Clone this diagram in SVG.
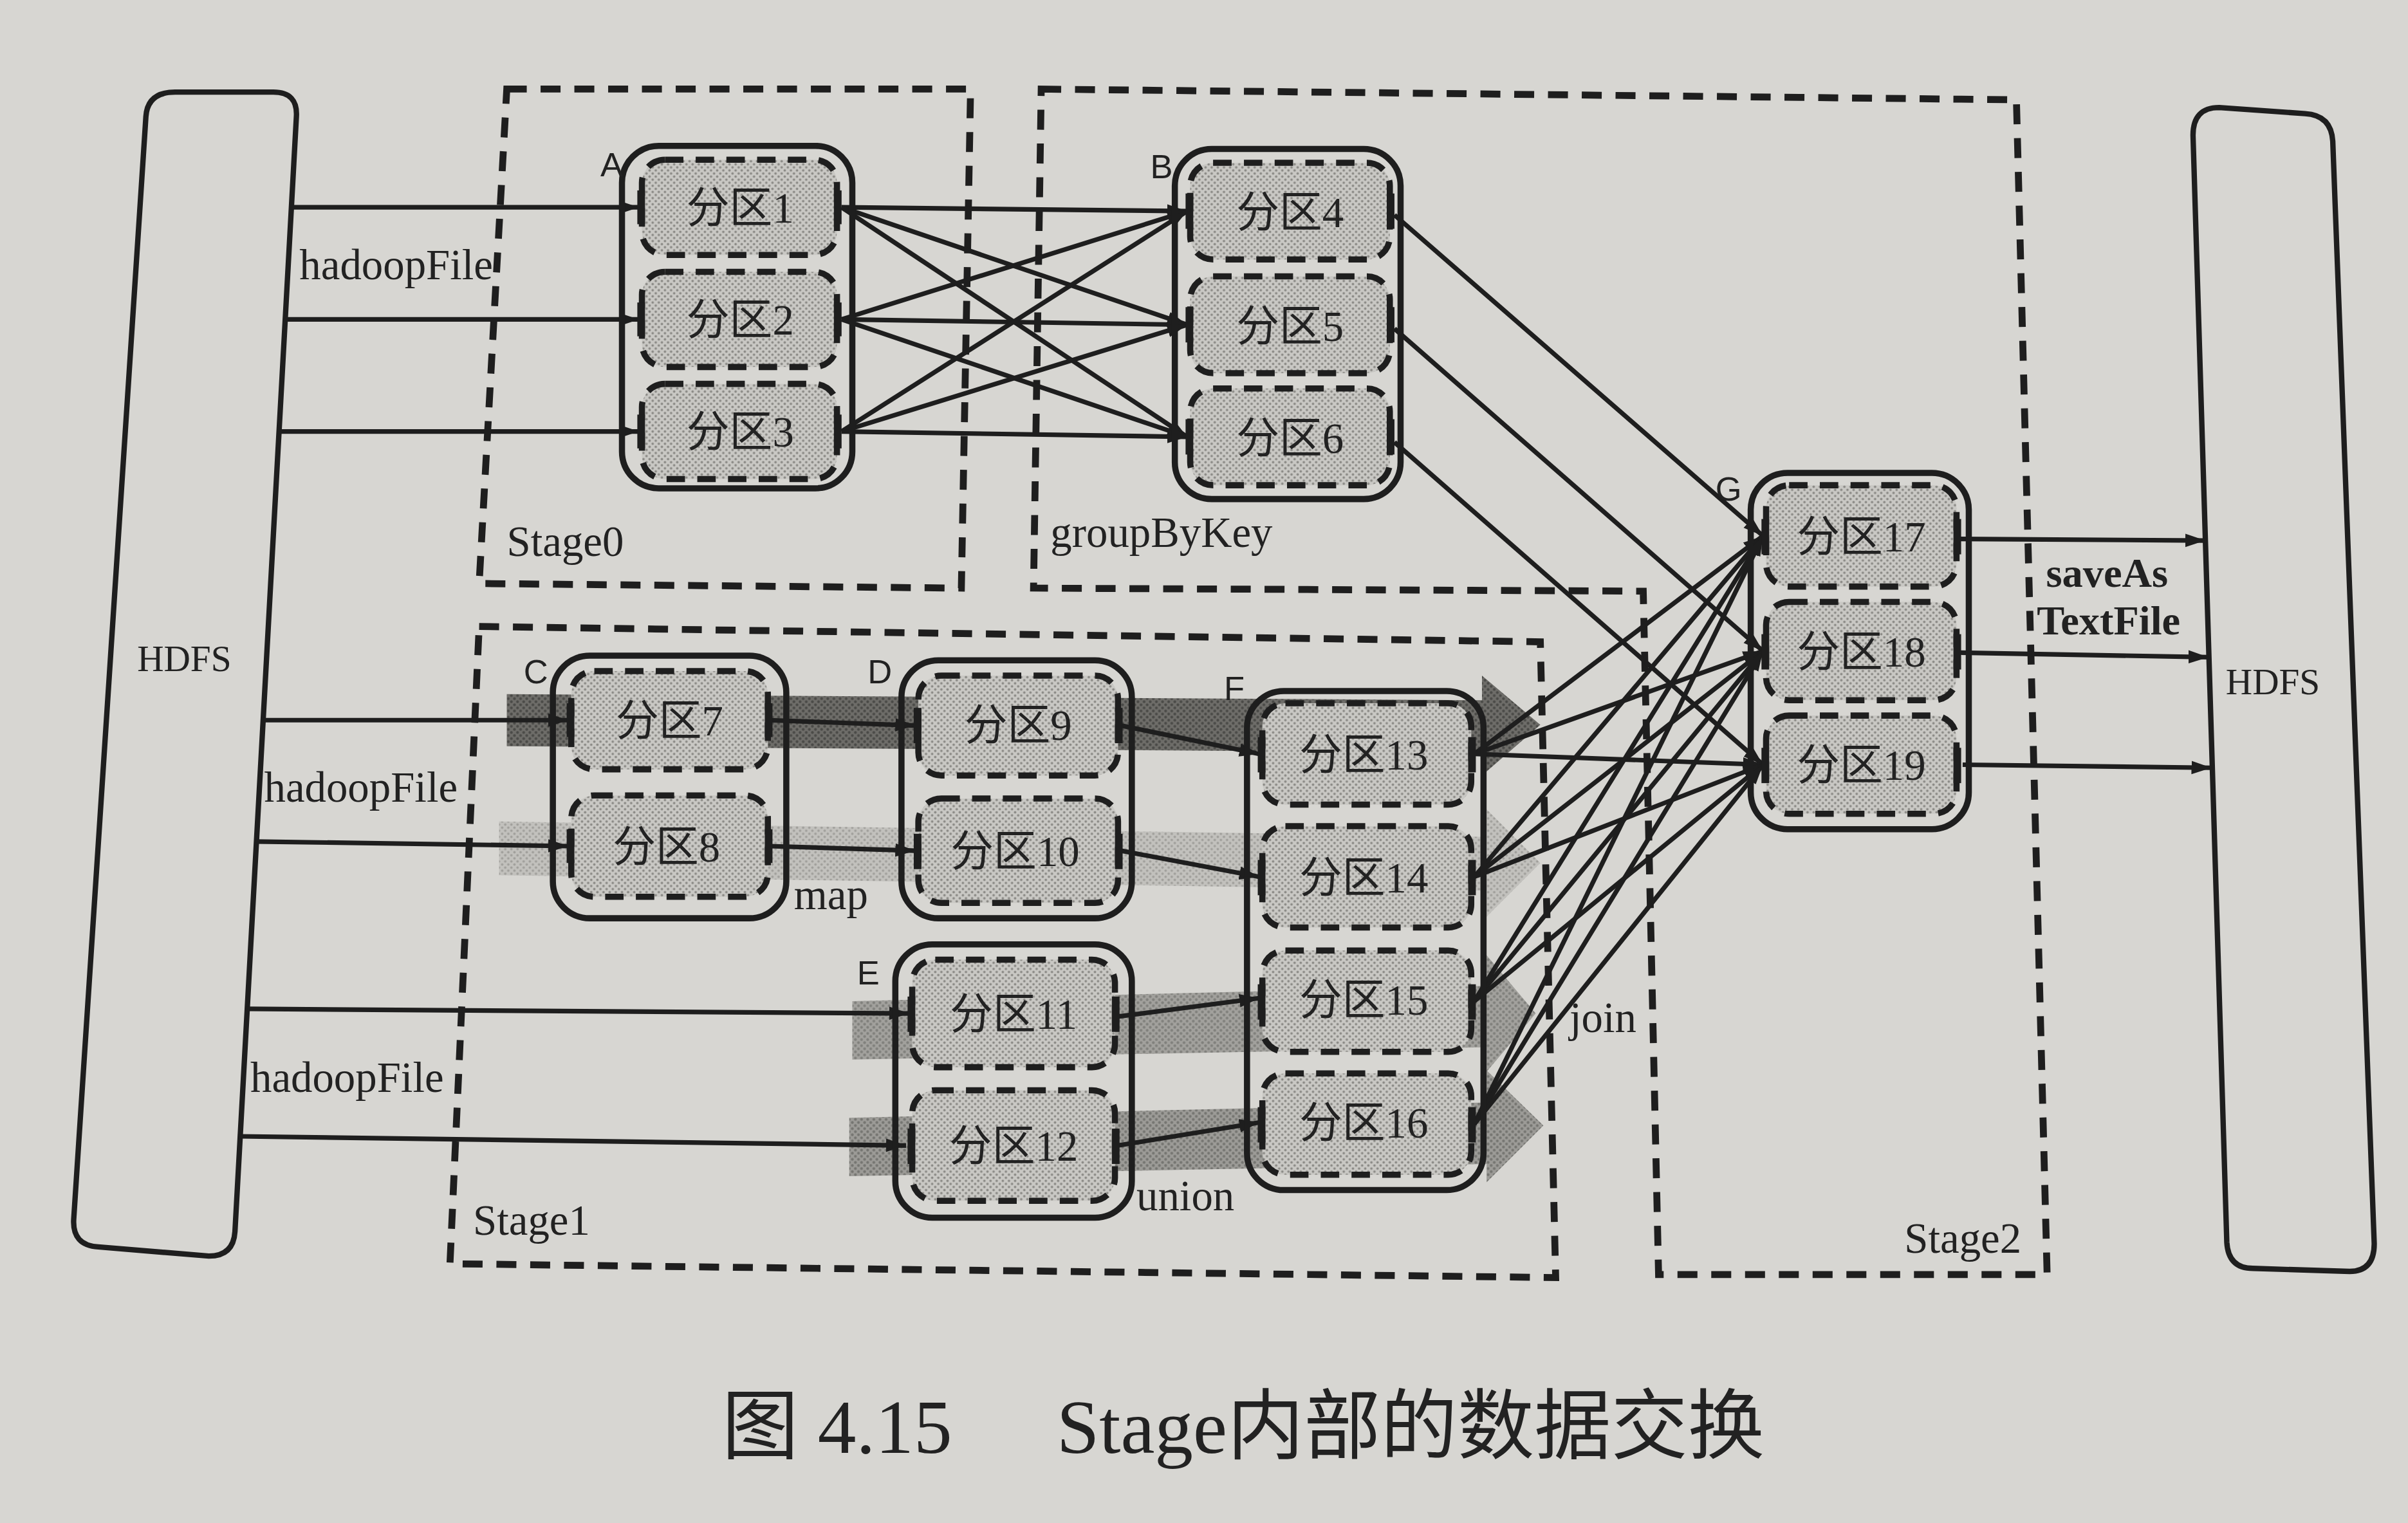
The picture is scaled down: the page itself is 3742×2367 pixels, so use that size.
<svg xmlns="http://www.w3.org/2000/svg" width="3742" height="2367" viewBox="0 0 3742 2367">
<defs>
<pattern id="pPart" width="4" height="4" patternUnits="userSpaceOnUse"><rect width="4" height="4" fill="#c9c8c4"/><circle cx="1" cy="1" r="0.8" fill="#8c8b87"/><circle cx="3" cy="3" r="0.8" fill="#8c8b87"/></pattern>
<pattern id="pDark" width="4" height="4" patternUnits="userSpaceOnUse"><rect width="4" height="4" fill="#62615d"/><circle cx="1" cy="1" r="0.9" fill="#3a3a37"/><circle cx="3" cy="3" r="0.9" fill="#3a3a37"/></pattern>
<pattern id="pMid" width="4" height="4" patternUnits="userSpaceOnUse"><rect width="4" height="4" fill="#959490"/><circle cx="1" cy="1" r="0.9" fill="#6a6a66"/><circle cx="3" cy="3" r="0.9" fill="#6a6a66"/></pattern>
<pattern id="pLight" width="4" height="4" patternUnits="userSpaceOnUse"><rect width="4" height="4" fill="#bebdb9"/><circle cx="1" cy="1" r="0.8" fill="#979692"/><circle cx="3" cy="3" r="0.8" fill="#979692"/></pattern>
<marker id="arr" viewBox="0 0 12 8" refX="12" refY="4" markerWidth="13" markerHeight="9" markerUnits="userSpaceOnUse" orient="auto"><path d="M0,0 L12,4 L0,8 Z" fill="#1e1e1e"/></marker>
</defs>
<style>
.stage{fill:none;stroke:#1e1e1e;stroke-width:4.5;stroke-dasharray:13 9}
.outer{fill:none;stroke:#1e1e1e;stroke-width:4}
.part{fill:url(#pPart);stroke:#1e1e1e;stroke-width:4;stroke-dasharray:12 8}
.tick{fill:#1e1e1e}
.plab{font-family:"Liberation Serif","Noto Sans CJK SC",serif;font-size:28px;fill:#222;text-anchor:middle}
.let{font-family:"Liberation Sans",sans-serif;font-size:22px;fill:#222}
.lab{font-family:"Liberation Serif",serif;font-size:28px;fill:#222}
.bold{font-family:"Liberation Serif",serif;font-size:27px;font-weight:bold;fill:#222;text-anchor:middle}
.hd{font-family:"Liberation Serif",serif;font-size:24px;fill:#222;text-anchor:middle}
.lna{fill:none;stroke:#1e1e1e;stroke-width:3;marker-end:url(#arr)}
.cap{font-family:"Liberation Serif","Noto Sans CJK SC",serif;font-size:50px;fill:#222}
</style>
<rect width="3742" height="2367" fill="#d7d6d2"/>
<g transform="scale(2.3865)">
<g id="bands">
<path d="M330,452 L965,456 L965,440 L1003,472 L965,505 L965,490 L330,486 Z" fill="url(#pDark)" opacity="0.9"/>
<path d="M325,535 L968,545 L968,527 L1003,562 L968,597 L968,580 L325,570 Z" fill="url(#pLight)" opacity="0.85"/>
<path d="M555,652 L968,642 L968,622 L1000,660 L968,698 L968,682 L555,690 Z" fill="url(#pMid)" opacity="0.8"/>
<path d="M553,728 L968,718 L968,697 L1005,733 L968,770 L968,758 L553,766 Z" fill="url(#pMid)" opacity="0.9"/>
</g>
<g id="stages">
<polygon class="stage" points="330,58 632,58 626,383 312,380"/>
<polygon class="stage" points="678,58 1313,65 1333,830 1080,830 1070,385 673,383"/>
<polygon class="stage" points="312,408 1003,418 1013,832 293,823"/>
<text class="lab" x="330" y="362">Stage0</text>
<text class="lab" x="684" y="356">groupByKey</text>
<text class="lab" x="1240" y="816">Stage2</text>
<text class="lab" x="308" y="804">Stage1</text>
</g>
<g id="hdfs-left">
<path d="M114,60 L178,60 Q194,60 193,76 L153,802 Q152,818 136,818 L64,812 Q47,811 48,794 L95,76 Q96,60 114,60 Z" fill="none" stroke="#1e1e1e" stroke-width="3.5"/>
<text class="hd" x="120" y="437">HDFS</text>
</g>
<g id="hdfs-right">
<path d="M1445,70 L1501,74 Q1518,75 1519,92 L1546,810 Q1546,828 1530,828 L1467,826 Q1451,826 1450,809 L1428,88 Q1428,70 1445,70 Z" fill="none" stroke="#1e1e1e" stroke-width="3.5"/>
<text class="hd" x="1480" y="452">HDFS</text>
</g>
<g id="connectors">
<line class="lna" x1="189" y1="135" x2="416" y2="135"/>
<line class="lna" x1="185" y1="208" x2="416" y2="208"/>
<line class="lna" x1="181" y1="281" x2="416" y2="281"/>
<line class="lna" x1="171" y1="469" x2="370" y2="469"/>
<line class="lna" x1="166" y1="548" x2="370" y2="551"/>
<line class="lna" x1="160" y1="657" x2="592" y2="660"/>
<line class="lna" x1="155" y1="740" x2="590" y2="746"/>
<line class="lna" x1="548" y1="135" x2="773" y2="137.5"/>
<line class="lna" x1="548" y1="135" x2="773" y2="211.5"/>
<line class="lna" x1="548" y1="135" x2="773" y2="284.5"/>
<line class="lna" x1="548" y1="208" x2="773" y2="137.5"/>
<line class="lna" x1="548" y1="208" x2="773" y2="211.5"/>
<line class="lna" x1="548" y1="208" x2="773" y2="284.5"/>
<line class="lna" x1="548" y1="281" x2="773" y2="137.5"/>
<line class="lna" x1="548" y1="281" x2="773" y2="211.5"/>
<line class="lna" x1="548" y1="281" x2="773" y2="284.5"/>
<line class="lna" x1="908" y1="140" x2="1148" y2="349"/>
<line class="lna" x1="908" y1="214" x2="1148" y2="424"/>
<line class="lna" x1="908" y1="288" x2="1148" y2="498"/>
<line class="lna" x1="501" y1="469" x2="596" y2="472.5"/>
<line class="lna" x1="501" y1="551" x2="596" y2="554"/>
<line class="lna" x1="730" y1="472.5" x2="820" y2="491"/>
<line class="lna" x1="730" y1="554" x2="820" y2="571"/>
<line class="lna" x1="728" y1="662" x2="820" y2="650"/>
<line class="lna" x1="728" y1="746" x2="820" y2="731"/>
<line class="lna" x1="960" y1="491" x2="1148" y2="349"/>
<line class="lna" x1="960" y1="491" x2="1148" y2="424"/>
<line class="lna" x1="960" y1="491" x2="1148" y2="498"/>
<line class="lna" x1="960" y1="571" x2="1148" y2="349"/>
<line class="lna" x1="960" y1="571" x2="1148" y2="424"/>
<line class="lna" x1="960" y1="571" x2="1148" y2="498"/>
<line class="lna" x1="960" y1="652" x2="1148" y2="349"/>
<line class="lna" x1="960" y1="652" x2="1148" y2="424"/>
<line class="lna" x1="960" y1="652" x2="1148" y2="498"/>
<line class="lna" x1="960" y1="732" x2="1148" y2="349"/>
<line class="lna" x1="960" y1="732" x2="1148" y2="424"/>
<line class="lna" x1="960" y1="732" x2="1148" y2="498"/>
<line class="lna" x1="1276" y1="351" x2="1436" y2="352"/>
<line class="lna" x1="1276" y1="425" x2="1438" y2="428"/>
<line class="lna" x1="1278" y1="498" x2="1440" y2="500"/>
<text class="lab" x="195" y="182">hadoopFile</text>
<text class="lab" x="172" y="522">hadoopFile</text>
<text class="lab" x="163" y="711">hadoopFile</text>
<text class="lab" x="517" y="592">map</text>
<text class="lab" x="740" y="788">union</text>
<text class="lab" x="1022" y="672">join</text>
<text class="bold" x="1372" y="382">saveAs</text>
<text class="bold" x="1373" y="413">TextFile</text>
</g>
<g id="node-A">
<rect class="outer" x="405" y="95" width="150" height="223" rx="24"/>
<text class="let" x="391" y="115">A</text>
<rect class="part" x="418" y="104" width="127" height="62" rx="15"/>
<rect class="part" x="418" y="177" width="127" height="62" rx="15"/>
<rect class="part" x="418" y="250" width="127" height="62" rx="15"/>
<rect class="tick" x="415" y="124" width="5" height="22"/><rect class="tick" x="543" y="124" width="5" height="22"/>
<rect class="tick" x="415" y="197" width="5" height="22"/><rect class="tick" x="543" y="197" width="5" height="22"/>
<rect class="tick" x="415" y="270" width="5" height="22"/><rect class="tick" x="543" y="270" width="5" height="22"/>
<text class="plab" x="482" y="145">分区1</text>
<text class="plab" x="482" y="218">分区2</text>
<text class="plab" x="482" y="291">分区3</text>
</g>
<g id="node-B">
<rect class="outer" x="765" y="97" width="147" height="228" rx="24"/>
<text class="let" x="749" y="116">B</text>
<rect class="part" x="775" y="106" width="130" height="63" rx="15"/>
<rect class="part" x="775" y="180" width="130" height="63" rx="15"/>
<rect class="part" x="775" y="253" width="130" height="63" rx="15"/>
<rect class="tick" x="772" y="126" width="5" height="23"/><rect class="tick" x="903" y="126" width="5" height="23"/>
<rect class="tick" x="772" y="200" width="5" height="23"/><rect class="tick" x="903" y="200" width="5" height="23"/>
<rect class="tick" x="772" y="273" width="5" height="23"/><rect class="tick" x="903" y="273" width="5" height="23"/>
<text class="plab" x="840" y="148">分区4</text>
<text class="plab" x="840" y="222">分区5</text>
<text class="plab" x="840" y="295">分区6</text>
</g>
<g id="node-C">
<rect class="outer" x="360" y="427" width="152" height="171" rx="24"/>
<text class="let" x="341" y="445">C</text>
<rect class="part" x="372" y="437" width="128" height="64" rx="15"/>
<rect class="part" x="372" y="518" width="128" height="66" rx="15"/>
<rect class="tick" x="369" y="458" width="5" height="22"/><rect class="tick" x="498" y="458" width="5" height="22"/>
<rect class="tick" x="369" y="540" width="5" height="22"/><rect class="tick" x="498" y="540" width="5" height="22"/>
<text class="plab" x="436" y="479">分区7</text>
<text class="plab" x="434" y="561">分区8</text>
</g>
<g id="node-D">
<rect class="outer" x="587" y="430" width="150" height="168" rx="24"/>
<text class="let" x="565" y="445">D</text>
<rect class="part" x="598" y="440" width="130" height="65" rx="15"/>
<rect class="part" x="598" y="520" width="130" height="68" rx="15"/>
<rect class="tick" x="595" y="461" width="5" height="23"/><rect class="tick" x="726" y="461" width="5" height="23"/>
<rect class="tick" x="595" y="543" width="5" height="23"/><rect class="tick" x="726" y="543" width="5" height="23"/>
<text class="plab" x="663" y="482">分区9</text>
<text class="plab" x="661" y="564">分区10</text>
</g>
<g id="node-E">
<rect class="outer" x="583" y="615" width="154" height="178" rx="24"/>
<text class="let" x="558" y="641">E</text>
<rect class="part" x="594" y="625" width="132" height="70" rx="15"/>
<rect class="part" x="594" y="710" width="132" height="72" rx="15"/>
<rect class="tick" x="591" y="649" width="5" height="23"/><rect class="tick" x="724" y="649" width="5" height="23"/>
<rect class="tick" x="591" y="735" width="5" height="23"/><rect class="tick" x="724" y="735" width="5" height="23"/>
<text class="plab" x="660" y="670">分区11</text>
<text class="plab" x="660" y="756">分区12</text>
</g>
<g id="node-F">
<rect class="outer" x="812" y="450" width="154" height="325" rx="24"/>
<text class="let" x="797" y="456">F</text>
<rect class="part" x="822" y="458" width="136" height="66" rx="15"/>
<rect class="part" x="822" y="538" width="136" height="66" rx="15"/>
<rect class="part" x="822" y="619" width="136" height="66" rx="15"/>
<rect class="part" x="822" y="699" width="136" height="66" rx="15"/>
<rect class="tick" x="819" y="480" width="5" height="23"/><rect class="tick" x="956" y="480" width="5" height="23"/>
<rect class="tick" x="819" y="560" width="5" height="23"/><rect class="tick" x="956" y="560" width="5" height="23"/>
<rect class="tick" x="819" y="641" width="5" height="23"/><rect class="tick" x="956" y="641" width="5" height="23"/>
<rect class="tick" x="819" y="721" width="5" height="23"/><rect class="tick" x="956" y="721" width="5" height="23"/>
<text class="plab" x="888" y="501">分区13</text>
<text class="plab" x="888" y="581">分区14</text>
<text class="plab" x="888" y="661">分区15</text>
<text class="plab" x="888" y="741">分区16</text>
</g>
<g id="node-G">
<rect class="outer" x="1140" y="308" width="142" height="232" rx="24"/>
<text class="let" x="1117" y="326">G</text>
<rect class="part" x="1150" y="316" width="124" height="66" rx="15"/>
<rect class="part" x="1150" y="392" width="124" height="64" rx="15"/>
<rect class="part" x="1150" y="466" width="124" height="64" rx="15"/>
<rect class="tick" x="1147" y="338" width="5" height="23"/><rect class="tick" x="1272" y="338" width="5" height="23"/>
<rect class="tick" x="1147" y="413" width="5" height="23"/><rect class="tick" x="1272" y="413" width="5" height="23"/>
<rect class="tick" x="1147" y="487" width="5" height="23"/><rect class="tick" x="1272" y="487" width="5" height="23"/>
<text class="plab" x="1212" y="359">分区17</text>
<text class="plab" x="1212" y="434">分区18</text>
<text class="plab" x="1212" y="508">分区19</text>
</g>
<g id="caption">
<text class="cap" x="470" y="946">图 4.15</text>
<text class="cap" x="688" y="946">Stage内部的数据交换</text>
</g>
</g>
</svg>
